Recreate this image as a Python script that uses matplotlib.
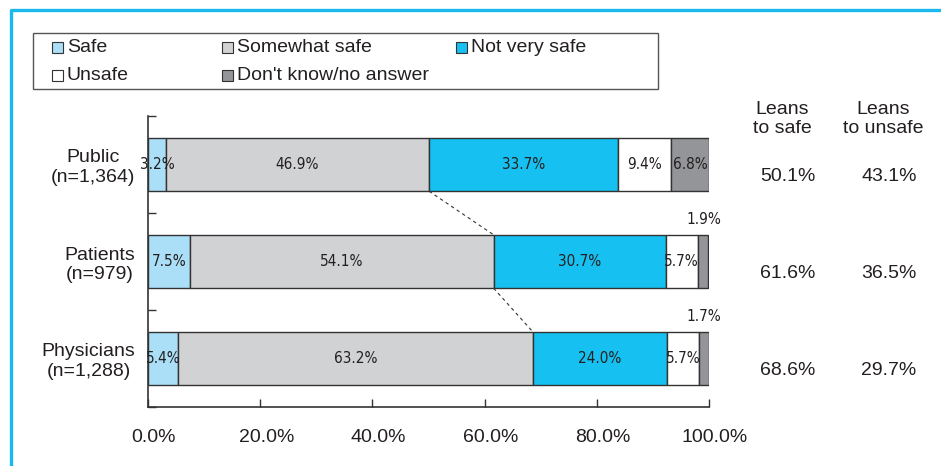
import matplotlib
matplotlib.use("Agg")
import matplotlib.pyplot as plt
import matplotlib.transforms as mtransforms
from matplotlib.lines import Line2D
from matplotlib.patches import Rectangle
import numpy as np

plt.rcParams["font.family"] = ["Liberation Sans", "DejaVu Sans"]

groups = ["Public\n(n=1,364)", "Patients\n(n=979)", "Physicians\n(n=1,288)"]
responses = ["Safe", "Somewhat safe", "Not very safe", "Unsafe", "Don't know/no answer"]
safe = [3.2, 7.5, 5.4]
somewhat_safe = [46.9, 54.1, 63.2]
not_very_safe = [33.7, 30.7, 24.0]
unsafe = [9.4, 5.7, 5.7]
dont_know = [6.8, 1.9, 1.7]
leans_safe = [50.1, 61.6, 68.6]
leans_unsafe = [43.1, 36.5, 29.7]
xticks = [0, 20, 40, 60, 80, 100]

colors = ["#aadff7", "#d1d2d4", "#16c0f0", "#ffffff", "#939598"]
edge = "#333333"
txt = "#231f20"
FS = 14
small = dict(family="DejaVu Sans", fontstretch="condensed", fontsize=11, color=txt)

W, H = 941, 466
fig = plt.figure(figsize=(W / 100, H / 100), dpi=100)
ax = fig.add_axes([148 / W, 1 - 407 / H, (709 - 148) / W, (407 - 116) / H])

series = [safe, somewhat_safe, not_very_safe, unsafe, dont_know]
y = np.arange(len(groups))
bar_h = 0.55
left = np.zeros(len(groups))
for vals, col in zip(series, colors):
    vals = np.array(vals)
    ax.barh(y, vals, left=left, height=bar_h, color=col, edgecolor=edge, linewidth=1.0)
    left += vals
segments = np.array(series)
starts = np.vstack([np.zeros(len(groups)), np.cumsum(segments, axis=0)[:-1]])

# value labels inside the segments; the thin "don't know" slices get theirs above the bar
for k in range(len(series)):
    for i in range(len(groups)):
        v = segments[k, i]
        cx = starts[k, i] + v / 2
        if k == 4 and v < 3:
            ax.text(100 - 1.0, i - bar_h / 2 - 0.08, f"{v:.1f}%", ha="center", va="bottom", **small)
        else:
            ax.text(cx, i, f"{v:.1f}%", ha="center", va="center", **small)

# dashed connectors between the "leans to safe" boundaries
for i in range(len(groups) - 1):
    ax.plot([leans_safe[i], leans_safe[i + 1]], [i + bar_h / 2, i + 1 - bar_h / 2],
            color=edge, linestyle=(0, (3, 3)), linewidth=0.8)

ax.set_xlim(0, 100)
ax.set_ylim(2.5, -0.5)
ax.set_xticks(xticks)
ax.set_xticklabels([f"{t:.1f}%" for t in xticks], fontsize=FS, color=txt)
ax.tick_params(axis="x", direction="in", length=6, width=1, color=edge, pad=16)
offset = mtransforms.ScaledTranslation(6 / 100, 0, fig.dpi_scale_trans)
for lab in ax.get_xticklabels():
    lab.set_transform(lab.get_transform() + offset)

ax.set_yticks([-0.5, 0.5, 1.5, 2.5])
ax.set_yticklabels([])
ax.tick_params(axis="y", which="major", direction="in", length=6, width=1, color=edge)
ax.set_yticks(y, minor=True)
ax.set_yticklabels(groups, minor=True, fontsize=FS, color=txt, multialignment="center")
ax.tick_params(axis="y", which="minor", length=0, pad=9)

for s in ["top", "right"]:
    ax.spines[s].set_visible(False)
for s in ["left", "bottom"]:
    ax.spines[s].set_color(edge)
    ax.spines[s].set_linewidth(1.2)

# side columns
col_x = [114.1, 132.1]
for cx, head in zip(col_x, ["Leans\nto safe", "Leans\nto unsafe"]):
    ax.text(cx - 1, -0.47, head, ha="center", va="center", fontsize=FS, color=txt,
            linespacing=1.1, clip_on=False)
for i in range(len(groups)):
    ax.text(col_x[0], i + 0.12, f"{leans_safe[i]:.1f}%", ha="center", va="center",
            fontsize=FS, color=txt, clip_on=False)
    ax.text(col_x[1], i + 0.12, f"{leans_unsafe[i]:.1f}%", ha="center", va="center",
            fontsize=FS, color=txt, clip_on=False)

# legend box, laid out row by row
fig.patches.append(Rectangle((33 / W, 1 - 89 / H), (658 - 33) / W, (89 - 33) / H,
                             transform=fig.transFigure, fill=False, edgecolor="#555555",
                             linewidth=1.0))
leg_x = [52, 222, 456]
leg_y = [48, 76]
for n, (name, col) in enumerate(zip(responses, colors)):
    r, c = divmod(n, 3)
    px, py = leg_x[c], leg_y[r]
    fig.patches.append(Rectangle((px / W, 1 - (py + 5) / H), 11 / W, 11 / H,
                                 transform=fig.transFigure, facecolor=col,
                                 edgecolor=edge, linewidth=0.8))
    fig.text((px + 15) / W, 1 - py / H, name, ha="left", va="center", fontsize=FS, color=txt)

# blue frame on the left and top
fig.lines.append(Line2D([10.5 / W, 10.5 / W, 1.0], [0.0, 1 - 9.5 / H, 1 - 9.5 / H],
                        transform=fig.transFigure, color="#1ab8ec", linewidth=2.4))

fig.savefig("out.png", dpi=100)
